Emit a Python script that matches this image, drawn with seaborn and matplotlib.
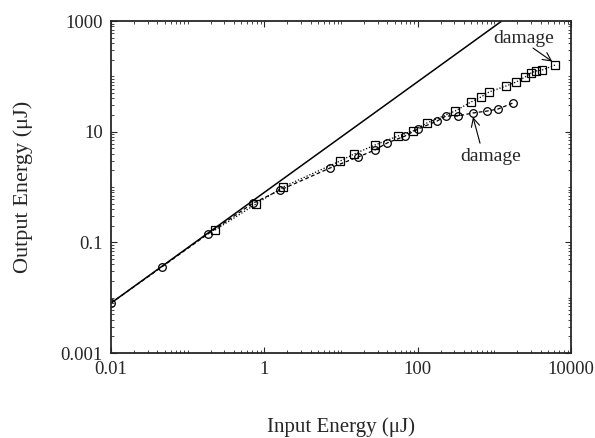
import numpy as np
import pandas as pd
import matplotlib
matplotlib.use("Agg")
import matplotlib.pyplot as plt
import matplotlib.ticker as mticker
import seaborn as sns

# Circle series (input, output in uJ)
circ_in = [0.01, 0.046, 0.184, 0.71, 1.60, 7.2, 16.7, 27.7, 39.8, 68.4, 101, 179, 234, 336, 526, 802, 1117, 1750]
circ_out = [0.008, 0.036, 0.142, 0.51, 0.88, 2.21, 3.49, 4.67, 6.24, 8.35, 11.2, 15.6, 19.2, 19.2, 21.8, 23.6, 25.7, 33.0]

# Square series
sq_in = [0.227, 0.778, 1.75, 9.7, 14.8, 27.7, 55.4, 86.9, 132, 307, 496, 670, 851, 1419, 1916, 2512, 3006, 3493, 4180, 6180]
sq_out = [0.167, 0.493, 1.0, 2.95, 3.95, 5.74, 8.35, 10.3, 14.4, 23.6, 34.4, 42.4, 52.1, 66.9, 79.0, 97.3, 115, 125, 130, 160]

# Linear reference (slope 0.8)
lin_in = [0.01, 1250]
lin_out = [0.008, 1000]

sns.set_style("ticks")
plt.rcParams['font.family'] = ['Liberation Serif', 'DejaVu Serif']

fig = plt.figure(figsize=(5.95, 4.38), dpi=100)
ax = fig.add_axes([0.1866, 0.194, 0.7731, 0.758])

df_c = pd.DataFrame({"x": circ_in, "y": circ_out})
df_s = pd.DataFrame({"x": sq_in, "y": sq_out})
df_l = pd.DataFrame({"x": lin_in, "y": lin_out})

sns.lineplot(data=df_l, x="x", y="y", ax=ax, color="black", lw=1.1, sort=False, estimator=None)
sns.lineplot(data=df_c, x="x", y="y", ax=ax, color="black", lw=0.9, sort=False, estimator=None,
             linestyle=(0, (3, 2)))
ln = ax.lines[-1]
ln.set_marker('o'); ln.set_markersize(5.5); ln.set_markerfacecolor('none')
ln.set_markeredgecolor('black'); ln.set_markeredgewidth(0.9)
sns.lineplot(data=df_s, x="x", y="y", ax=ax, color="black", lw=0.9, sort=False, estimator=None,
             linestyle=(0, (1, 1.5)))
ln = ax.lines[-1]
ln.set_marker('s'); ln.set_markersize(5.5); ln.set_markerfacecolor('none')
ln.set_markeredgecolor('black'); ln.set_markeredgewidth(0.9)

ax.set_xscale('log')
ax.set_yscale('log')
ax.set_xlim(0.01, 10000)
ax.set_ylim(0.001, 1000)

xt = [0.01, 1, 100, 10000]
xt_lab = ["0.01", "1", "100", "10000"]
yt = [0.001, 0.1, 10, 1000]
yt_lab = ["0.001", "0.1", "10", "1000"]
ax.xaxis.set_major_locator(mticker.FixedLocator(xt))
ax.set_xticklabels(xt_lab)
ax.yaxis.set_major_locator(mticker.FixedLocator(yt))
ax.set_yticklabels(yt_lab)
ax.xaxis.set_minor_locator(mticker.LogLocator(base=10, subs=np.arange(1, 10), numticks=20))
ax.yaxis.set_minor_locator(mticker.LogLocator(base=10, subs=np.arange(1, 10), numticks=20))
ax.xaxis.set_minor_formatter(mticker.NullFormatter())
ax.yaxis.set_minor_formatter(mticker.NullFormatter())
ax.tick_params(which='both', direction='in', top=True, right=True, labelsize=13.5)
ax.tick_params(which='major', length=4, width=0.8, pad=6)
ax.tick_params(which='minor', length=2.5, width=0.6)
for s in ax.spines.values():
    s.set_visible(True)
    s.set_linewidth(1.3)

ax.set_xlabel("Input Energy (\u03bcJ)", fontsize=15, labelpad=28)
ax.set_ylabel("Output Energy (\u03bcJ)", fontsize=16, labelpad=20)

ax.text(2440, 493, "damage", fontsize=14, ha='center', va='center')
ax.annotate("", xy=(5700, 185), xytext=(3190, 325),
            arrowprops=dict(arrowstyle='->,head_length=0.6,head_width=0.3', color='black', lw=0.8,
                            shrinkA=0, shrinkB=0))
ax.text(903, 3.5, "damage", fontsize=14, ha='center', va='center')
ax.annotate("", xy=(526, 18.4), xytext=(650, 6.2),
            arrowprops=dict(arrowstyle='->,head_length=0.6,head_width=0.3', color='black', lw=0.8,
                            shrinkA=0, shrinkB=0))

fig.savefig("out.png", dpi=100)
